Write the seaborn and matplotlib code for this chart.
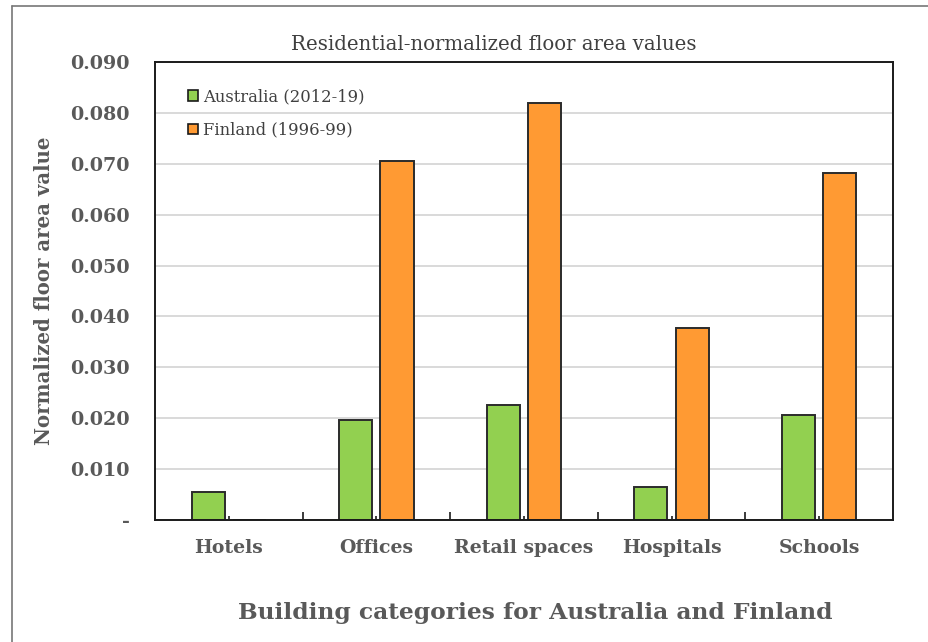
import matplotlib
matplotlib.use("Agg")
import matplotlib.pyplot as plt
from matplotlib.lines import Line2D
from matplotlib.patches import Patch
from matplotlib.ticker import FixedLocator, FuncFormatter
import pandas as pd
import seaborn as sns

# Normalized floor area per building category
categories = ["Hotels", "Offices", "Retail spaces", "Hospitals", "Schools"]
series = ["Australia (2012-19)", "Finland (1996-99)"]
australia = [0.00545, 0.0196, 0.0226, 0.0064, 0.0206]
finland = [0.0, 0.0706, 0.0819, 0.0378, 0.0682]
colors = ["#92D050", "#FF9A33"]
y_ticks = [0.0, 0.01, 0.02, 0.03, 0.04, 0.05, 0.06, 0.07, 0.08, 0.09]

df = pd.DataFrame({
    "category": categories * 2,
    "series": [series[0]] * len(categories) + [series[1]] * len(categories),
    "value": australia + finland,
})

sns.set_theme(style="white")
plt.rcParams["font.family"] = ["DejaVu Serif"]
grey = "#595959"

fig = plt.figure(figsize=(9.29, 6.42), dpi=100)
ax = fig.add_axes([0.1668, 0.190, 0.7944, 0.7134])

sns.barplot(data=df, x="category", y="value", hue="series", order=categories,
            hue_order=series, palette=colors, width=0.56, gap=0.2,
            edgecolor="#2b2b2b", linewidth=1.4, saturation=1, ax=ax, legend=False)

ax.set_ylim(0, 0.09)
ax.set_xlim(-0.5, len(categories) - 0.5)
ax.yaxis.set_major_locator(FixedLocator(y_ticks))
ax.yaxis.set_major_formatter(FuncFormatter(lambda v, p: "-" if abs(v) < 1e-12 else f"{v:.3f}"))
ax.grid(axis="y", color="#d9d9d9", linewidth=1.4)
ax.set_axisbelow(True)
for s in ax.spines.values():
    s.set_color("#1a1a1a")
    s.set_linewidth(1.4)

# x ticks: long marks on category boundaries, short marks on category centres
ax.set_xticks(range(len(categories)))
ax.set_xticklabels(categories, fontsize=13.6, fontweight="bold", color=grey)
ax.set_xticks([i + 0.5 for i in range(len(categories) - 1)], minor=True)
ax.tick_params(axis="x", which="major", direction="in", length=3, width=1.2,
               color="#1a1a1a", bottom=True, pad=14)
ax.tick_params(axis="x", which="minor", direction="in", length=6, width=1.2,
               color="#1a1a1a", bottom=True)
ax.tick_params(axis="y", length=0, labelsize=13.8, labelcolor=grey, pad=18)
for t in ax.get_yticklabels():
    t.set_fontweight("bold")

ax.set_xlabel("Building categories for Australia and Finland", fontsize=16.8,
              fontweight="bold", color=grey, labelpad=32, x=0.515)
ax.set_ylabel("Normalized floor area value", fontsize=14.2, fontweight="bold",
              color=grey, labelpad=12)
ax.set_title("Residential-normalized floor area values", fontsize=14.2,
             color="#404040", pad=9, x=0.459)

handles = [Patch(facecolor=c, edgecolor="#1a1a1a", linewidth=1.2) for c in colors]
ax.legend(handles, series, loc="upper left", bbox_to_anchor=(0.025, 0.975),
          frameon=False, fontsize=11.8, handlelength=0.6, handleheight=0.6,
          handletextpad=0.3, labelspacing=1.0, labelcolor="#404040")

# thin frame lines along the top and left of the figure
fig.add_artist(Line2D([12 / 929, 1.0], [1 - 6 / 642, 1 - 6 / 642], color="#777777", linewidth=1.2))
fig.add_artist(Line2D([12 / 929, 12 / 929], [0.0, 1 - 6 / 642], color="#777777", linewidth=1.2))

fig.savefig("out.png", dpi=100)
